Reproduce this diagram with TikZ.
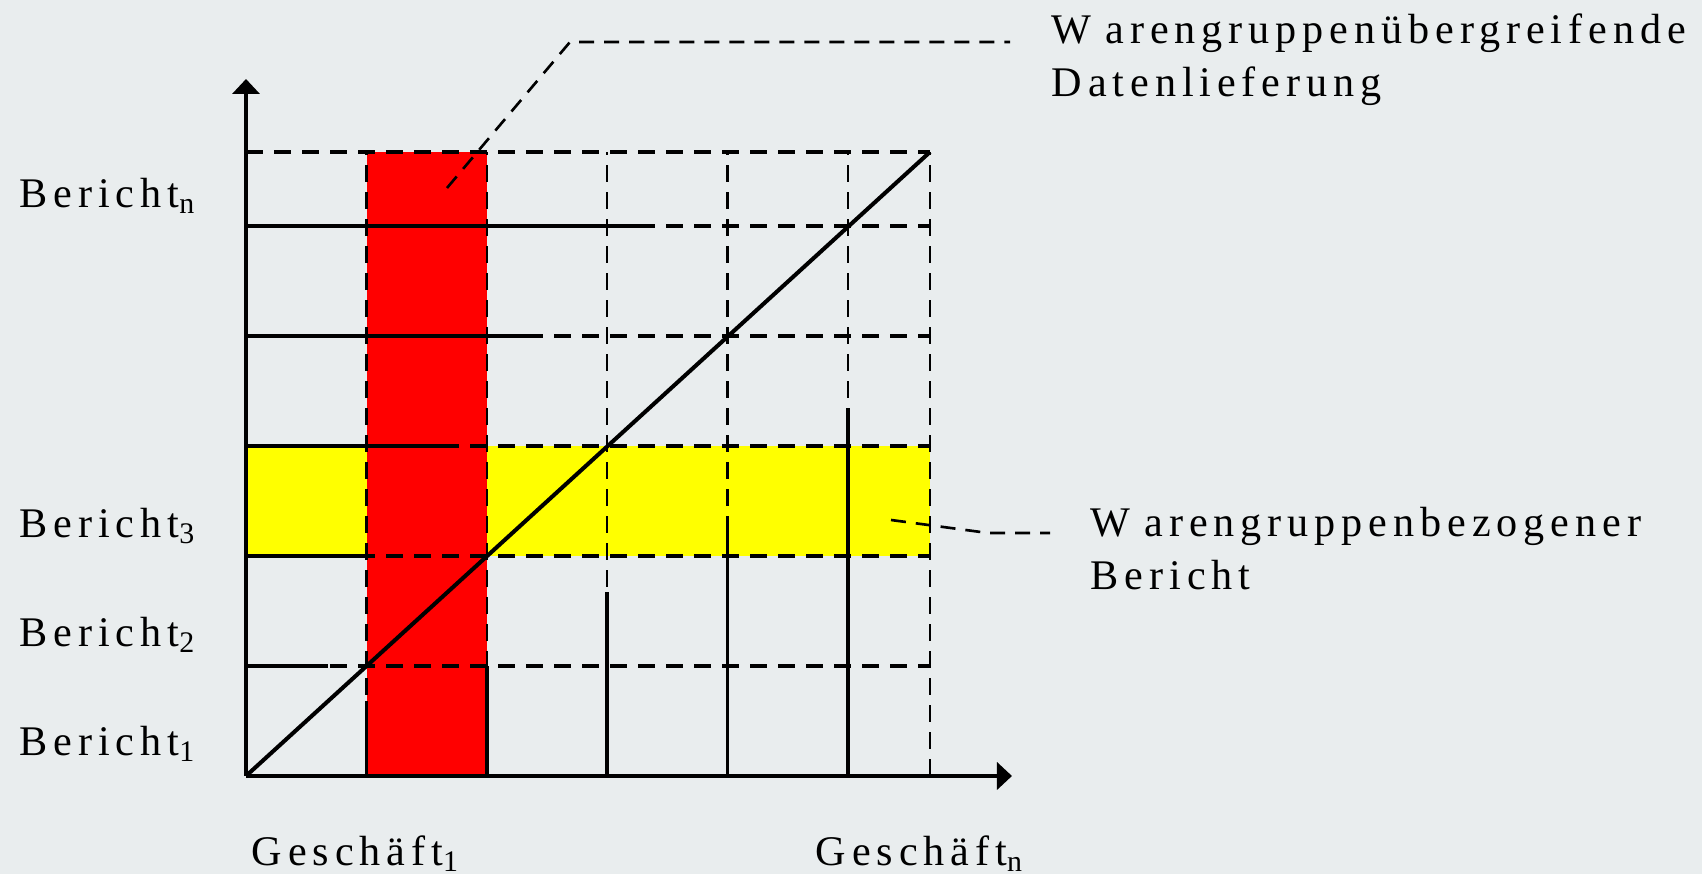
\documentclass[tikz,border=0pt]{standalone}
\usepackage{fontspec}
\setmainfont{Liberation Serif}
\usetikzlibrary{arrows.meta}
\definecolor{bg}{RGB}{233,237,238}
\definecolor{redcol}{RGB}{255,0,0}
\definecolor{yelband}{RGB}{255,255,0}
\newcommand\lblsub[1]{\raisebox{-1.5pt}{\fontsize{8.5}{8.5}\selectfont #1}}
\begin{document}
\begin{tikzpicture}[x=0.01cm,y=-0.01cm,
  axisline/.style={line width=1.05pt,-{Triangle[length=0.15cm,width=0.27cm]}},
  gridsolid/.style={line width=1.1pt},
  diagline/.style={line width=1.15pt},
  dashH/.style={line width=0.95pt,dash pattern=on 0.17cm off 0.11cm},
  dashV/.style={line width=0.8pt,dash pattern=on 0.17cm off 0.1cm},
  leader/.style={line width=0.75pt,dash pattern=on 0.15cm off 0.1cm},
  lbl/.style={font=\fontsize{12}{15}\selectfont\addfontfeature{LetterSpace=14},inner sep=0pt,anchor=base west}]
\useasboundingbox (0,0) rectangle (1702,874);
\fill[bg] (0,0) rectangle (1702,874);
% coloured areas
\fill[yelband] (246,446) rectangle (930,556);
\fill[redcol] (366.5,152) rectangle (487,776);
% dashed grid
\foreach \yy in {152,226,336,446,556,666}
  \draw[dashH] (246,\yy) -- (930,\yy);
\foreach \xx in {366.5,487,607,727.5,848,930}
  \draw[dashV] (\xx,776) -- (\xx,152);
% solid grid parts
\draw[gridsolid] (246,226) -- (649,226);
\draw[gridsolid] (246,336) -- (528,336);
\draw[gridsolid] (246,446) -- (448,446);
\draw[gridsolid] (246,556) -- (367,556);
\draw[gridsolid] (246,666) -- (328,666);
\draw[gridsolid] (366.5,776) -- (366.5,701);
\draw[gridsolid] (487,776) -- (487,666);
\draw[gridsolid] (607,776) -- (607,592);
\draw[gridsolid] (727.5,776) -- (727.5,518);
\draw[gridsolid] (848,776) -- (848,408);
% axes
\coordinate (O) at (246,776);
\coordinate (ytip) at (246,79);
\coordinate (xtip) at (1012,776);
\coordinate (D) at (930,152);
\draw[diagline] (O) -- (D);
\draw[axisline] (O) -- (ytip);
\draw[axisline] (O) -- (xtip);
% labels
\node[lbl] (bn) at (19,208) {Bericht\lblsub{n}};
\node[lbl] (b3) at (19,538) {Bericht\lblsub{3}};
\node[lbl] (b2) at (19,647) {Bericht\lblsub{2}};
\node[lbl] (b1) at (19,756) {Bericht\lblsub{1}};
\node[lbl] (g1) at (251,866) {Geschäft\lblsub{1}};
\node[lbl] (gn) at (815,866) {Geschäft\lblsub{n}};
\node[lbl] (wu) at (1051,44) {\begin{tabular}[t]{@{}l@{}}W\kern4pt arengruppenübergreifende\\Datenlieferung\end{tabular}};
\node[lbl] (wb) at (1090,537) {\begin{tabular}[t]{@{}l@{}}W\kern4pt arengruppenbezogener\\Bericht\end{tabular}};
% leaders
\coordinate (l1s) at (447,188);
\coordinate (l1c) at (570,42);
\coordinate (l1e) at (1010,42);
\draw[leader] (l1s) -- (l1c) -- (l1e);
\coordinate (l2s) at (891,520);
\coordinate (l2c) at (988,533);
\coordinate (l2e) at (1050,533);
\draw[leader] (l2s) -- (l2c) -- (l2e);
\end{tikzpicture}
\end{document}
